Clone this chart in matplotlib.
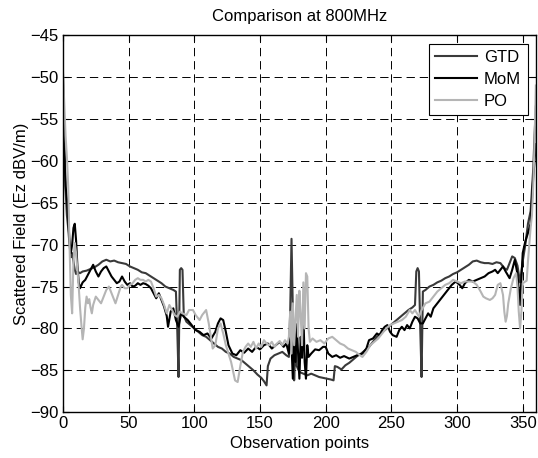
import numpy as np
import matplotlib.pyplot as plt

plt.rcParams['font.family'] = ['Liberation Sans', 'DejaVu Sans']
plt.rcParams['lines.scale_dashes'] = False

# GTD
gtd_x = [0, 1, 2, 3, 4, 5, 6, 7, 8, 9, 10, 11, 13, 15, 18, 21, 24, 27, 30, 33, 36, 39, 42, 45, 48,
         51, 54, 57, 60, 63, 66, 69, 72, 75, 78, 81, 84, 86, 87, 88, 89, 90, 91, 92, 94, 97, 100,
         103, 106, 109, 112, 115, 118, 121, 124, 127, 130, 133, 136, 139, 142, 145, 148, 151, 153,
         155, 156, 158, 161, 164, 167, 170, 172, 173, 174, 175, 176, 177, 178, 180, 183, 186, 189,
         192, 195, 198, 201, 204, 206, 207, 209, 212, 215, 218, 221, 224, 227, 230, 233, 236, 239,
         242, 245, 248, 251, 254, 257, 260, 263, 266, 268, 269, 270, 271, 272, 273, 274, 276, 279,
         282, 285, 288, 291, 294, 297, 300, 303, 306, 309, 312, 315, 318, 321, 324, 327, 330, 333,
         336, 338, 340, 342, 344, 346, 348, 350, 352, 354, 356, 358, 359, 360]
gtd_y = [-49.5, -56.5, -63.5, -66.5, -68, -70, -71.5, -71, -72, -73, -73.5, -73.2, -73.4, -73.2,
         -73.1, -72.9, -72.7, -72.4, -72.0, -71.8, -72.0, -71.9, -72.1, -72.2, -72.3, -72.6, -72.8,
         -73.0, -73.3, -73.4, -73.7, -74.0, -74.3, -74.6, -75.0, -75.2, -75.4, -75.6, -80, -85.8,
         -73, -72.8, -73, -78.5, -79.2, -79.6, -80.0, -80.4, -80.8, -81.0, -81.4, -81.8, -82.2,
         -82.4, -82.8, -83.0, -83.4, -83.6, -83.8, -84.2, -84.6, -85.0, -85.5, -85.9, -86.3, -86.8,
         -84.5, -83.6, -83.2, -83.0, -82.8, -83.2, -83.4, -78, -69.3, -78, -86.2, -82, -84.5, -85.2,
         -85.4, -85.6, -85.4, -85.6, -85.8, -85.9, -86.0, -86.1, -86.2, -84.5, -84.6, -84.9, -84.4,
         -84.1, -83.7, -83.3, -83.0, -82.6, -82.2, -81.6, -81.0, -80.6, -80.2, -79.8, -79.4, -79.0,
         -78.6, -78.2, -77.8, -77.5, -77.2, -73.2, -72.8, -73.2, -80, -85.8, -75.6, -75.4, -75.0,
         -74.8, -74.5, -74.3, -74.0, -73.8, -73.5, -73.3, -73.0, -72.7, -72.4, -72.0, -71.9, -72.1,
         -72.2, -72.2, -72.3, -72.1, -72.2, -72.8, -73, -72.2, -71.4, -71.6, -72.5, -74.5, -72, -70,
         -67.5, -66, -61, -57, -53.5]

# MoM
mom_x = [0, 1, 2, 3, 4, 5, 6, 7, 8, 9, 10, 11, 12, 13, 15, 17, 19, 21, 23, 25, 27, 29, 31, 33, 35,
         37, 39, 41, 43, 45, 47, 49, 51, 53, 55, 57, 59, 61, 63, 65, 67, 69, 71, 73, 75, 77, 79, 80,
         82, 84, 86, 88, 90, 92, 95, 98, 101, 104, 107, 110, 113, 116, 118, 120, 122, 124, 126, 129,
         132, 135, 138, 141, 144, 147, 150, 153, 156, 159, 162, 165, 168, 170, 172, 173, 174, 175,
         176, 177, 178, 179, 180, 181, 182, 183, 184, 185, 186, 187, 189, 192, 195, 198, 200, 202,
         205, 208, 211, 214, 218, 221, 224, 228, 231, 233, 236, 239, 241, 243, 245, 247, 249, 251,
         254, 256, 258, 260, 262, 264, 266, 268, 270, 272, 274, 276, 278, 280, 282, 284, 287, 290,
         293, 296, 299, 302, 304, 306, 309, 312, 315, 318, 321, 324, 327, 329, 331, 333, 335, 337,
         340, 342, 344, 346, 348, 350, 352, 354, 356, 358, 359, 360]
mom_y = [-57, -59, -63, -64.5, -67, -69.5, -71, -70, -68, -67.5, -69.5, -72.5, -74.5, -75.2, -74.5,
         -74.2, -73.6, -73, -72.4, -73.2, -73.8, -73.2, -72.8, -72.6, -73.2, -73.8, -74.2, -74.6,
         -74.4, -73.8, -74.4, -74.8, -74.6, -75, -74.9, -74.6, -74.8, -74.6, -74.7, -74.9, -75.2,
         -75.8, -76.4, -75.8, -76.6, -77.4, -78.5, -79.8, -78, -77.6, -79, -79.8, -78.2, -78.6, -79,
         -79.6, -80.2, -80.4, -80.8, -80.6, -81.2, -80.4, -79.4, -78.8, -79, -80.4, -82, -83, -83.2,
         -82.6, -82.9, -82.4, -82.8, -82.2, -82.5, -82, -81.8, -82.4, -82, -81.6, -82.2, -81.8, -83,
         -80, -82, -86, -80, -84, -79.5, -83, -86, -81, -83.5, -78, -84, -86, -82, -83.4, -83, -82.5,
         -82.6, -82.2, -82.2, -83, -83.4, -83.2, -83.5, -83.3, -83.6, -83.4, -83.2, -83.0, -82.4,
         -81.4, -81.2, -80.6, -80.8, -80.2, -79.8, -79.6, -80.4, -80.8, -81, -80.2, -79.8, -80.2,
         -79.6, -80, -79.2, -78.6, -78.8, -79.4, -79.4, -78.8, -78.2, -78.6, -77.6, -77.2, -76.6,
         -76, -75.4, -74.8, -74.4, -74.8, -75.2, -74.6, -74.2, -74.4, -74.2, -74, -73.8, -73.4,
         -73.2, -73, -73.4, -73, -72.6, -73.2, -74, -73, -71.8, -73.5, -77.2, -71, -69.6, -68.6,
         -67.5, -62, -60, -58]

# PO
po_x = [0, 1, 2, 3, 4, 5, 6, 7, 8, 9, 10, 11, 12, 13, 14, 15, 16, 17, 18, 19, 20, 21, 22, 23, 25,
        27, 29, 31, 33, 35, 37, 39, 40, 42, 44, 45, 47, 49, 51, 53, 55, 57, 59, 61, 63, 65, 67, 69,
        71, 73, 75, 77, 79, 81, 83, 85, 87, 89, 91, 94, 96, 99, 101, 104, 106, 109, 111, 114, 116,
        118, 120, 122, 124, 126, 128, 131, 133, 135, 137, 139, 141, 143, 145, 147, 149, 151, 153,
        155, 157, 159, 161, 163, 165, 167, 169, 171, 172, 173, 174, 175, 176, 177, 178, 179, 180,
        181, 182, 183, 184, 185, 186, 187, 188, 190, 193, 196, 199, 202, 205, 208, 211, 214, 217,
        220, 223, 226, 228, 231, 234, 237, 240, 243, 246, 249, 252, 255, 258, 261, 264, 266, 268,
        271, 273, 276, 279, 282, 285, 288, 291, 294, 297, 300, 303, 306, 309, 312, 315, 318, 320,
        322, 325, 327, 329, 331, 333, 335, 336, 337, 338, 339, 341, 343, 345, 346, 347, 348, 349,
        350, 352, 353, 354, 355, 356, 357, 358, 359, 360]
po_y = [-49.3, -53, -57, -59.5, -63, -70, -76, -78.2, -72, -69.8, -71, -73, -75, -77.5, -79.5,
        -81.3, -80, -77.5, -76.2, -77, -76.5, -77.5, -78.2, -77.2, -76.2, -76.6, -77, -76.2, -75.4,
        -75, -75.8, -76.6, -77, -76, -75, -74.8, -75.2, -75.2, -74.8, -74.6, -74.2, -74, -74.2,
        -74.2, -74.4, -74.2, -74.4, -75.2, -76.2, -76, -76.4, -77.2, -78.2, -77.2, -77.8, -78.4,
        -78.6, -78, -78.2, -78.4, -77.8, -77.8, -78.4, -79, -78.4, -77.8, -79.4, -82.4, -82, -80,
        -79.4, -80.6, -82, -83, -84, -86.2, -86.4, -84.5, -82.8, -82.2, -81.8, -82.2, -81.6, -82.4,
        -81.8, -82.2, -81.4, -81.8, -82, -81.6, -82.2, -81.8, -81.5, -82, -81.4, -81.8, -81, -78,
        -83, -77, -82, -79, -76, -81, -75.5, -78.5, -82, -74.5, -80, -73.4, -73.8, -80, -81.6,
        -81.2, -81.6, -81.4, -81.8, -81.2, -81, -81.4, -81.8, -82, -82.4, -82.6, -82.8, -83.2,
        -83.4, -82.8, -82, -81.6, -81.2, -80.6, -80, -79.6, -79.4, -79.2, -79, -78.6, -77.8, -78.2,
        -77.8, -78.6, -77.8, -77, -76.8, -76.2, -75.6, -75.2, -74.8, -74.6, -74.2, -74.4, -74.6,
        -74.4, -74.4, -74.4, -74.8, -75.6, -76.2, -76.4, -76.6, -76.4, -76, -74.8, -74.6, -76, -78,
        -79.2, -78.5, -77, -75.2, -74, -73.4, -75, -78, -80, -78, -74.6, -74.4, -74.3, -72, -70,
        -68, -66.5, -63, -58, -51]

fig = plt.figure(figsize=(5.38, 4.58), dpi=100)
ax = fig.add_axes([0.117, 0.1, 0.879, 0.823])

ax.plot(gtd_x, gtd_y, color='#3a3a3a', lw=1.5, label='GTD')
ax.plot(mom_x, mom_y, color='#000000', lw=1.5, label='MoM')
ax.plot(po_x, po_y, color='#b5b5b5', lw=1.5, label='PO')

ax.set_xlim(0, 360)
ax.set_ylim(-90, -45)
ax.set_xticks(np.arange(0, 351, 50))
ax.set_yticks(np.arange(-90, -44, 5))
ax.grid(True, color='k', lw=0.7, linestyle=(0, (6, 3.5)))
ax.tick_params(direction='in', top=True, right=True, length=4, labelsize=12, pad=3)
for s in ax.spines.values():
    s.set_linewidth(1.0)

ax.set_title('Comparison at 800MHz', fontsize=12, pad=10)
ax.set_xlabel('Observation points', fontsize=12, labelpad=3)
ax.set_ylabel('Scattered Field (Ez dBV/m)', fontsize=12, labelpad=1)

leg = ax.legend(loc='upper right', fontsize=12, handlelength=2.5, borderaxespad=0.5,
                fancybox=False, framealpha=1, labelspacing=0.4, borderpad=0.4, handletextpad=0.4)
leg.get_frame().set_edgecolor('k')
leg.get_frame().set_linewidth(0.8)

fig.savefig('out.png', dpi=100)
